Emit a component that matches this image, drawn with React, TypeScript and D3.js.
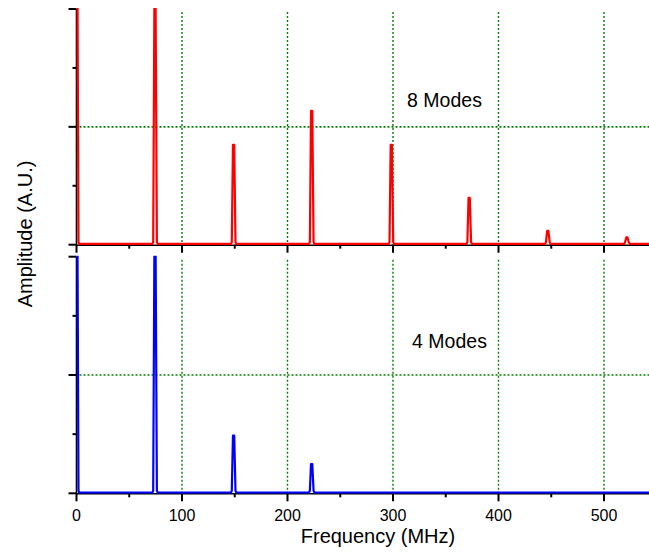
import React, { useEffect, useRef } from "react";
import * as d3 from "d3";

// Peak positions (MHz) and amplitudes (A.U.)
const peakFreqs = [0, 74.5, 149, 223, 298.5, 372.3, 446.8, 521.8];
const amps8 = [2.0, 2.0, 0.84, 1.13, 0.84, 0.39, 0.11, 0.055];
const amps4 = [2.0, 2.0, 0.48, 0.24, 0, 0, 0, 0];
const panelLabels = ["8 Modes", "4 Modes"];
const panelColors = ["#ff0000", "#0000ff"];
const majorXTicks = [0, 100, 200, 300, 400, 500];
const minorXTicks = [50, 150, 250, 350, 450, 550];
const majorYTicks = [0, 1, 2];
const minorYTicks = [0.5, 1.5];
const gridXValues = [100, 200, 300, 400, 500];
const gridYValues = [1];

const W = 649;
const H = 557;
const FONT = "'Liberation Sans', Arial, sans-serif";

function buildSpectrum(amps: number[]): [number, number][] {
  const pts: [number, number][] = [];
  peakFreqs.forEach((f, i) => {
    const a = amps[i];
    if (a <= 0) return;
    if (f <= 0) {
      pts.push([0.3, a]);
      pts.push([1.0, a]);
      pts.push([1.9, 0.015]);
      pts.push([2.6, 0]);
      return;
    }
    pts.push([f - 2.6, 0]);
    pts.push([f - 1.8, 0.015]);
    pts.push([f - 0.7, a]);
    pts.push([f + 0.5, a]);
    pts.push([f + 1.7, 0.015]);
    pts.push([f + 2.5, 0]);
  });
  pts.push([600, 0]);
  return pts.sort((a, b) => a[0] - b[0]);
}

export default function App() {
  const ref = useRef<SVGSVGElement | null>(null);

  useEffect(() => {
    const svg = d3.select(ref.current);
    svg.selectAll("*").remove();

    const x = d3.scaleLinear().domain([0, 550]).range([76.5, 76.5 + 550 * 1.055]);
    const panels = [
      { top: 9, bottom: 244.7, amps: amps8, labelX: 444.5, labelY: 106.5 },
      { top: 256.7, bottom: 493.3, amps: amps4, labelX: 449.5, labelY: 348.3 },
    ];

    panels.forEach((p, pi) => {
      const y = d3.scaleLinear().domain([0, 2]).range([p.bottom, p.top]);
      const g = svg.append("g");

      const clipId = `clip${pi}`;
      svg
        .append("clipPath")
        .attr("id", clipId)
        .append("rect")
        .attr("x", x(0) - 1)
        .attr("y", p.top - 1)
        .attr("width", W - x(0) + 1)
        .attr("height", p.bottom - p.top + 3);

      // grid
      gridXValues.forEach((v) => {
        g.append("line")
          .attr("x1", x(v))
          .attr("x2", x(v))
          .attr("y1", p.top + 3)
          .attr("y2", p.bottom)
          .attr("stroke", "#008000")
          .attr("stroke-width", 1.4)
          .attr("stroke-dasharray", "2,2");
      });
      gridYValues.forEach((v) => {
        g.append("line")
          .attr("x1", x(0) + 3)
          .attr("x2", W)
          .attr("y1", y(v))
          .attr("y2", y(v))
          .attr("stroke", "#008000")
          .attr("stroke-width", 1.6)
          .attr("stroke-dasharray", "2,2");
      });

      // axes
      g.append("line")
        .attr("x1", x(0))
        .attr("x2", x(0))
        .attr("y1", p.top)
        .attr("y2", p.bottom)
        .attr("stroke", "#000")
        .attr("stroke-width", 1.6);
      g.append("line")
        .attr("x1", x(0))
        .attr("x2", W)
        .attr("y1", p.bottom + 0.5)
        .attr("y2", p.bottom + 0.5)
        .attr("stroke", "#000")
        .attr("stroke-width", 1.6);

      majorYTicks.forEach((v) => {
        g.append("line")
          .attr("x1", x(0) - 8)
          .attr("x2", x(0))
          .attr("y1", y(v))
          .attr("y2", y(v))
          .attr("stroke", "#000")
          .attr("stroke-width", 2);
      });
      minorYTicks.forEach((v) => {
        g.append("line")
          .attr("x1", x(0) - 4)
          .attr("x2", x(0))
          .attr("y1", y(v))
          .attr("y2", y(v))
          .attr("stroke", "#000")
          .attr("stroke-width", 2);
      });
      majorXTicks.forEach((v) => {
        g.append("line")
          .attr("x1", x(v))
          .attr("x2", x(v))
          .attr("y1", p.bottom)
          .attr("y2", p.bottom + 8)
          .attr("stroke", "#000")
          .attr("stroke-width", 2);
      });
      minorXTicks.forEach((v) => {
        g.append("line")
          .attr("x1", x(v))
          .attr("x2", x(v))
          .attr("y1", p.bottom)
          .attr("y2", p.bottom + 4)
          .attr("stroke", "#000")
          .attr("stroke-width", 2);
      });

      // spectrum
      const line = d3
        .line<[number, number]>()
        .x((d) => x(d[0]))
        .y((d) => y(d[1]) - 0.8);
      g.append("path")
        .attr("d", line(buildSpectrum(p.amps)) || "")
        .attr("fill", "none")
        .attr("stroke", panelColors[pi])
        .attr("stroke-width", 2.2)
        .attr("stroke-linejoin", "round")
        .attr("clip-path", `url(#${clipId})`);

      g.append("text")
        .attr("x", p.labelX)
        .attr("y", p.labelY)
        .attr("text-anchor", "middle")
        .attr("font-family", FONT)
        .attr("font-size", 19.5)
        .attr("fill", "#000")
        .text(panelLabels[pi]);

      if (pi === 1) {
        majorXTicks.forEach((v) => {
          g.append("text")
            .attr("x", x(v))
            .attr("y", 520.5)
            .attr("text-anchor", "middle")
            .attr("font-family", FONT)
            .attr("font-size", 16)
            .attr("fill", "#000")
            .text(String(v));
        });
      }
    });

    svg
      .append("text")
      .attr("x", 378)
      .attr("y", 543)
      .attr("text-anchor", "middle")
      .attr("font-family", FONT)
      .attr("font-size", 20)
      .attr("fill", "#000")
      .text("Frequency (MHz)");

    svg
      .append("text")
      .attr("transform", "translate(32,234) rotate(-90)")
      .attr("text-anchor", "middle")
      .attr("font-family", FONT)
      .attr("font-size", 20)
      .attr("fill", "#000")
      .text("Amplitude (A.U.)");
  }, []);

  return (
    <svg
      ref={ref}
      width={W}
      height={H}
      style={{ position: "absolute", left: 0, top: 0, background: "#fff" }}
    />
  );
}
